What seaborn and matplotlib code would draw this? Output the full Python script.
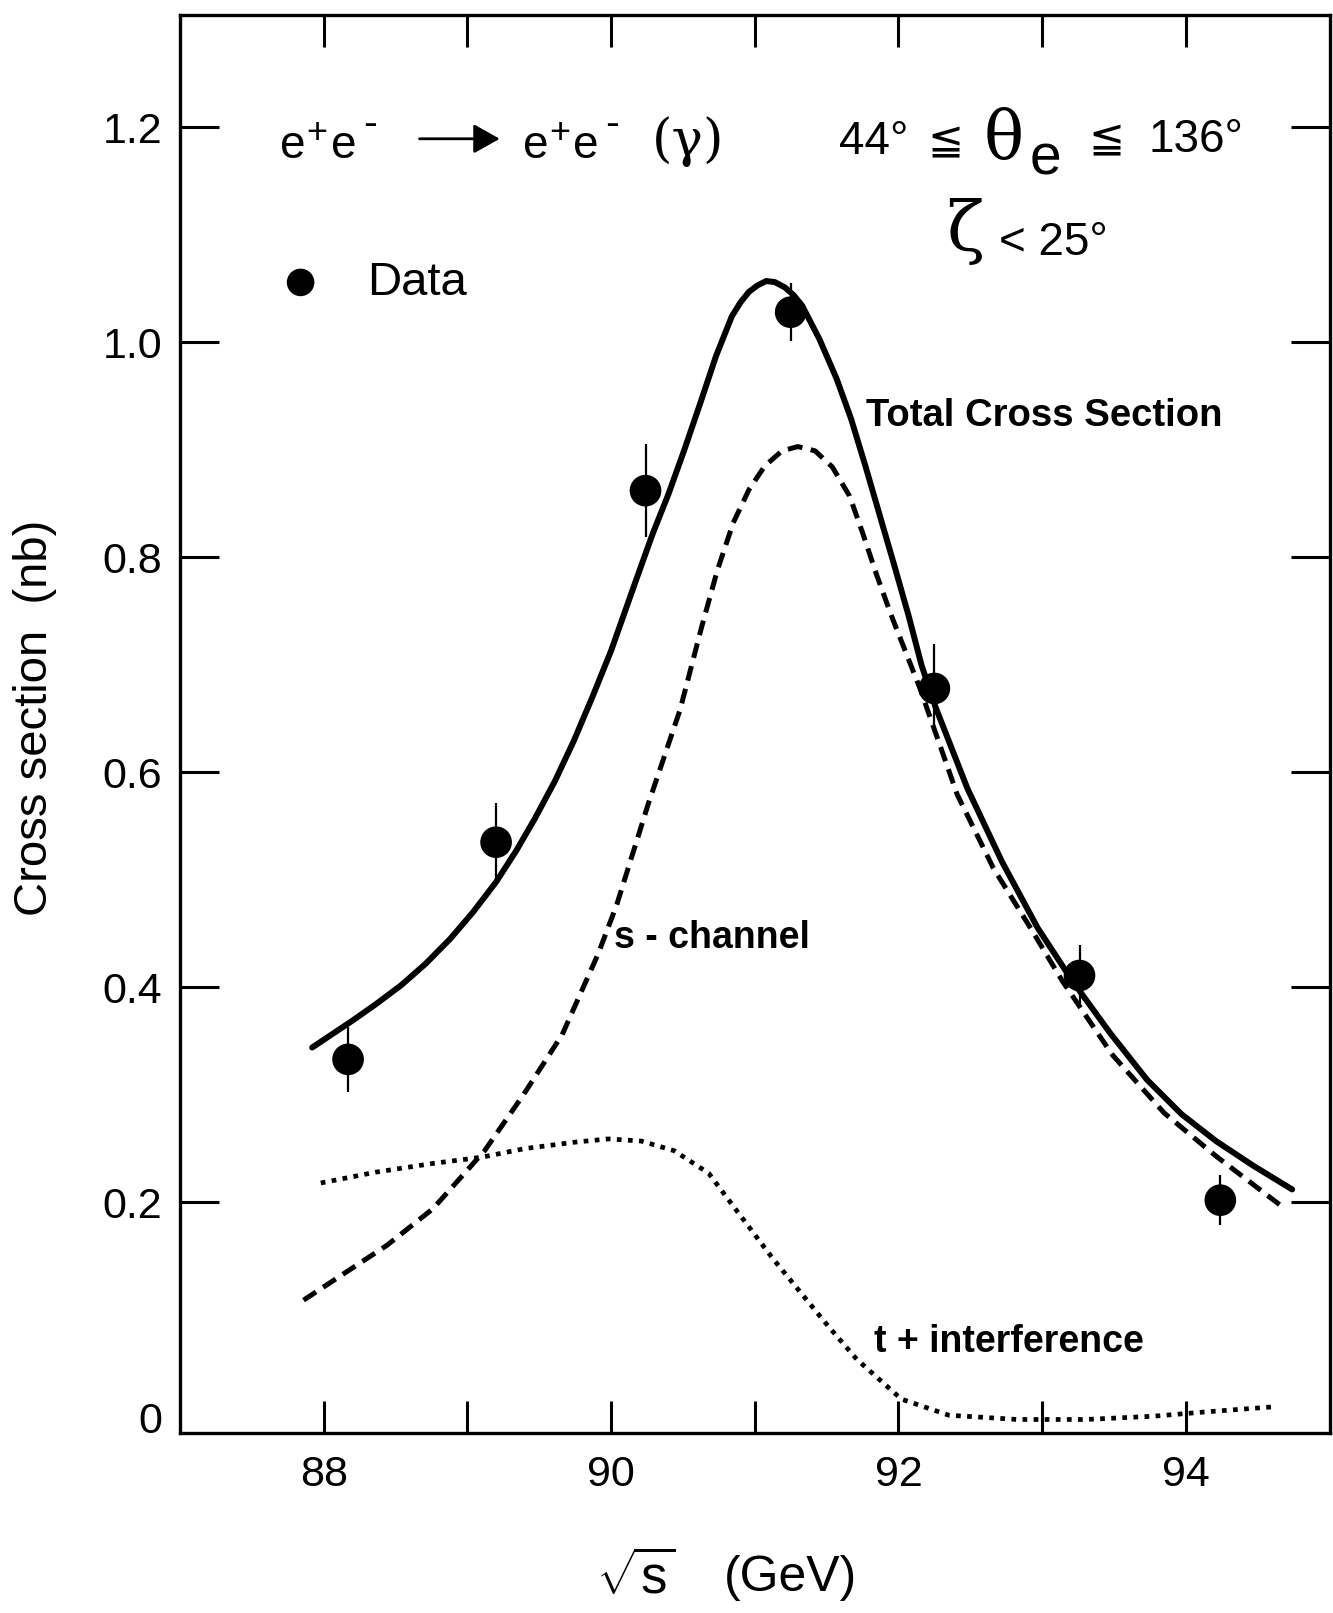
import matplotlib
matplotlib.use('Agg')
import matplotlib.pyplot as plt
import seaborn as sns

# ---------------- data ----------------
energy = [88.17, 89.20, 90.24, 91.25, 92.25, 93.26, 94.24]
sigma = [0.333, 0.535, 0.862, 1.028, 0.678, 0.411, 0.202]
sigma_err = [0.030, 0.036, 0.043, 0.027, 0.041, 0.028, 0.023]

total_x = [87.92, 88.20, 88.36, 88.54, 88.71, 88.88, 89.04, 89.20, 89.34, 89.47,
           89.61, 89.74, 89.87, 90.00, 90.18, 90.29, 90.40, 90.51, 90.62, 90.73,
           90.84, 90.90, 90.96, 91.02, 91.08, 91.14, 91.21, 91.27, 91.33, 91.45,
           91.57, 91.67, 91.77, 91.87, 91.97, 92.07, 92.16, 92.26, 92.48, 92.72,
           92.97, 93.21, 93.47, 93.73, 93.97, 94.21, 94.47, 94.74]
total_y = [0.344, 0.369, 0.384, 0.402, 0.422, 0.445, 0.470, 0.498, 0.527, 0.557,
           0.592, 0.629, 0.670, 0.713, 0.781, 0.822, 0.859, 0.900, 0.943, 0.987,
           1.024, 1.037, 1.047, 1.053, 1.057, 1.056, 1.051, 1.044, 1.034, 1.003,
           0.966, 0.929, 0.885, 0.839, 0.793, 0.746, 0.700, 0.660, 0.585, 0.517,
           0.455, 0.406, 0.358, 0.314, 0.282, 0.257, 0.234, 0.212]

schan_x = [87.86, 88.44, 88.76, 89.12, 89.39, 89.66, 89.91, 90.04, 90.26, 90.48,
           90.63, 90.74, 90.85, 90.96, 91.07, 91.19, 91.30, 91.42, 91.54, 91.66,
           91.75, 91.85, 91.95, 92.05, 92.15, 92.41, 92.66, 92.92, 93.14, 93.49,
           93.85, 94.21, 94.69]
schan_y = [0.109, 0.160, 0.194, 0.248, 0.300, 0.356, 0.431, 0.477, 0.571, 0.658,
           0.735, 0.788, 0.832, 0.863, 0.885, 0.899, 0.903, 0.899, 0.884, 0.857,
           0.823, 0.783, 0.746, 0.712, 0.678, 0.579, 0.511, 0.455, 0.406, 0.337,
           0.283, 0.243, 0.194]

tint_x = [87.98, 88.36, 88.75, 89.10, 89.40, 89.75, 89.98, 90.21, 90.44, 90.68,
          90.87, 91.13, 91.32, 91.51, 91.71, 92.02, 92.35, 92.83, 93.30, 93.77,
          94.13, 94.63]
tint_y = [0.218, 0.228, 0.236, 0.242, 0.250, 0.256, 0.259, 0.257, 0.248, 0.227,
          0.193, 0.147, 0.116, 0.085, 0.054, 0.017, 0.002, -0.002, -0.002, 0.001,
          0.005, 0.010]

x_major = [88, 90, 92, 94]
x_minor = [89, 91, 93]
y_ticks = [0, 0.2, 0.4, 0.6, 0.8, 1.0, 1.2]
y_ticklabels = ['0', '0.2', '0.4', '0.6', '0.8', '1.0', '1.2']

# ---------------- style ----------------
sns.set_theme(style='white')
plt.rcParams['font.family'] = ['Liberation Sans', 'DejaVu Sans']
plt.rcParams['mathtext.fontset'] = 'custom'
plt.rcParams['mathtext.rm'] = 'Liberation Sans'
plt.rcParams['mathtext.it'] = 'Liberation Sans:italic'
plt.rcParams['mathtext.bf'] = 'Liberation Sans:bold'
for k in ['axes.edgecolor', 'text.color', 'xtick.color', 'ytick.color', 'axes.labelcolor']:
    plt.rcParams[k] = 'black'

fig = plt.figure(figsize=(13.33, 16.13), dpi=100)
ax = fig.add_axes([0.1350, 0.1113, 0.8624, 0.8791])

# curves
sns.lineplot(x=total_x, y=total_y, ax=ax, color='black', lw=4.3, sort=False)
sns.lineplot(x=schan_x, y=schan_y, ax=ax, color='black', lw=3.6, sort=False,
             linestyle=(0, (3.0, 1.7)), dash_capstyle='butt')
sns.lineplot(x=tint_x, y=tint_y, ax=ax, color='black', lw=3.4, sort=False,
             linestyle=(0, (1.0, 1.35)), dash_capstyle='butt')

# data
ax.errorbar(energy, sigma, yerr=sigma_err, fmt='none', ecolor='black',
            elinewidth=1.6, capsize=0, zorder=4)
sns.scatterplot(x=energy, y=sigma, ax=ax, s=520, color='black',
                edgecolor='none', linewidth=0, label='Data', zorder=5)

ax.legend(loc='upper left', bbox_to_anchor=(0.0844, 0.8270), frameon=False,
          fontsize=34, handletextpad=0.90, handlelength=1.0, borderpad=0,
          borderaxespad=0, markerscale=0.87)

# axes
ax.set_xlim(87, 95)
ax.set_ylim(-0.015, 1.304)
ax.set_xticks(x_major)
ax.set_xticks(x_minor, minor=True)
ax.set_xticklabels([str(v) for v in x_major])
ax.set_yticks(y_ticks)
ax.set_yticklabels(y_ticklabels)
ax.tick_params(axis='x', which='both', direction='in', length=23, width=2.2,
               top=True, bottom=True, labelsize=31, pad=15.5)
ax.tick_params(axis='y', which='both', direction='in', length=28, width=2.2,
               left=True, right=True, labelsize=31, pad=13)
t0 = ax.yaxis.get_major_ticks()[0]
t0.tick1line.set_visible(False)
t0.tick2line.set_visible(False)
for s in ax.spines.values():
    s.set_visible(True)
    s.set_linewidth(2.4)
    s.set_color('black')

ax.set_xlabel('(GeV)', fontsize=36)
ax.xaxis.label.set_va('baseline')
ax.xaxis.set_label_coords(0.5315, -0.1110)
ax.text(0.3620, -0.1135, r'$\sqrt{\mathrm{s}}$', transform=ax.transAxes,
        fontsize=38, ha='left', va='baseline')
ax.set_ylabel('Cross section  (nb)', fontsize=34)
ax.yaxis.set_label_coords(-0.107, 0.505)

# annotations
serif = ['DejaVu Serif']


def ee(x0, yb):
    ax.text(x0, yb, 'e', fontsize=33, ha='left', va='baseline')
    ax.annotate('+', xy=(x0, yb), xytext=(19.0, 11.0), textcoords='offset points',
                fontsize=26, ha='left', va='baseline')
    ax.annotate('e', xy=(x0, yb), xytext=(36.5, 0), textcoords='offset points',
                fontsize=33, ha='left', va='baseline')
    ax.annotate('-', xy=(x0, yb), xytext=(59.5, 16.0), textcoords='offset points',
                fontsize=30, ha='left', va='baseline')


ee(87.697, 1.1713)
ax.annotate('', xy=(89.225, 1.1893), xytext=(88.667, 1.1893),
            arrowprops=dict(arrowstyle='-|>,head_length=0.8,head_width=0.45',
                            lw=2.0, color='black', shrinkA=0, shrinkB=0,
                            mutation_scale=20))
ee(89.384, 1.1713)
ax.text(90.284, 1.1729, '(γ)', fontsize=38, family=serif, ha='left', va='baseline')

ax.text(91.589, 1.1751, '44°', fontsize=33, ha='left', va='baseline')
ax.text(92.200, 1.1751, '≦', fontsize=31, family=['DejaVu Sans'], ha='left', va='baseline')
ax.text(92.590, 1.1710, 'θ', fontsize=48, family=serif, ha='left', va='baseline')
ax.text(92.910, 1.1560, 'e', fontsize=41, ha='left', va='baseline')
ax.text(93.320, 1.1768, '≦', fontsize=31, family=['DejaVu Sans'], ha='left', va='baseline')
ax.text(93.741, 1.1768, '136°', fontsize=33, ha='left', va='baseline')

ax.text(92.330, 1.0847, 'ζ', fontsize=50, family=serif, ha='left', va='baseline')
ax.text(92.700, 1.0816, '< 25°', fontsize=33, ha='left', va='baseline')

ax.text(91.777, 0.9224, 'Total Cross Section', fontsize=27.5, fontweight='bold',
        ha='left', va='baseline')
ax.text(90.022, 0.437, 's - channel', fontsize=27, fontweight='bold',
        ha='left', va='baseline')
ax.text(91.830, 0.0605, 't + interference', fontsize=27, fontweight='bold',
        ha='left', va='baseline')

fig.savefig('out.png', dpi=100)
